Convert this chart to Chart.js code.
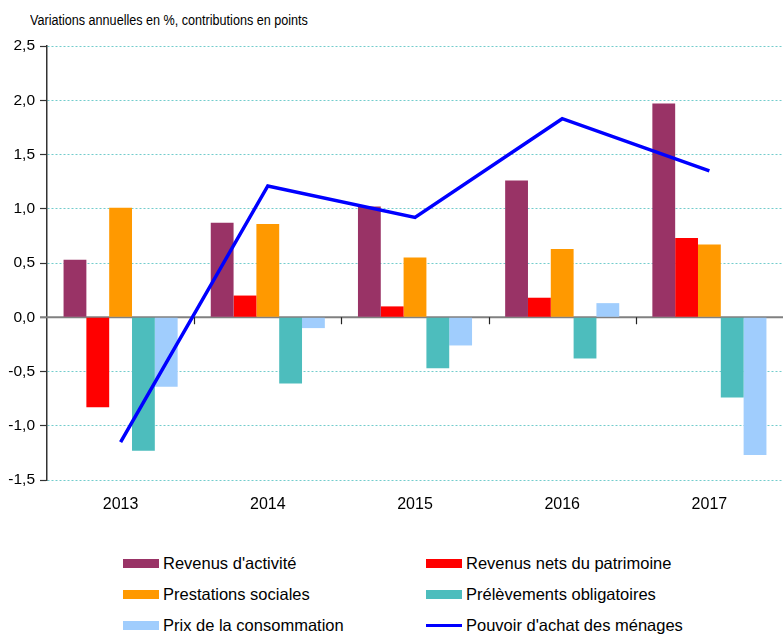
<!DOCTYPE html>
<html>
<head>
<meta charset="utf-8">
<script src="https://cdn.jsdelivr.net/npm/chart.js@4/dist/chart.umd.min.js"></script>
<style>
  html, body { margin: 0; padding: 0; background: #fff; overflow: hidden; }
  #wrap { position: relative; width: 783px; height: 634px; }
  #titre {
    position: absolute; left: 30px; top: 13px;
    font: 14px "Liberation Sans", Arial, sans-serif;
    line-height: 1; color: #000; white-space: nowrap;
    transform: scaleX(0.9); transform-origin: left top;
  }
  #chart { position: absolute; left: 0; top: 0; }
  .leg { position: absolute; height: 20px; font: 16.5px "Liberation Sans", Arial, sans-serif; color: #000; white-space: nowrap; }
  .leg span.sw { position: absolute; left: 0; }
  .leg span.tx { position: absolute; left: 40px; top: 0; line-height: 20px; }
</style>
</head>
<body>
<div id="wrap">
  <div id="titre">Variations annuelles en %, contributions en points</div>
  <canvas id="chart" width="783" height="530"></canvas>
  <div id="legende"></div>
</div>
<script>
// données
const annees = ['2013', '2014', '2015', '2016', '2017'];
const revenusActivite = [0.53, 0.87, 1.02, 1.26, 1.97];
const revenusPatrimoine = [-0.83, 0.20, 0.10, 0.18, 0.73];
const prestationsSociales = [1.01, 0.86, 0.55, 0.63, 0.67];
const prelevements = [-1.23, -0.61, -0.47, -0.38, -0.74];
const prixConso = [-0.64, -0.10, -0.26, 0.13, -1.27];
const pouvoirAchat = [-1.15, 1.21, 0.92, 1.83, 1.35];

const yTicks = [-1.5, -1.0, -0.5, 0.0, 0.5, 1.0, 1.5, 2.0, 2.5];

const couleurs = {
  activite: '#993366',
  patrimoine: '#ff0000',
  prestations: '#ff9900',
  prelevements: '#4dbdbd',
  prix: '#a0cdfd',
  pouvoir: '#0000ff',
};

const series = [
  { label: "Revenus d'activité", data: revenusActivite, color: couleurs.activite },
  { label: 'Revenus nets du patrimoine', data: revenusPatrimoine, color: couleurs.patrimoine },
  { label: 'Prestations sociales', data: prestationsSociales, color: couleurs.prestations },
  { label: 'Prélèvements obligatoires', data: prelevements, color: couleurs.prelevements },
  { label: 'Prix de la consommation', data: prixConso, color: couleurs.prix },
];

const datasets = series.map((s) => ({
  type: 'bar',
  label: s.label,
  data: s.data,
  backgroundColor: s.color,
  borderWidth: 0,
  categoryPercentage: 0.775,
  barPercentage: 1.0,
  order: 2,
}));

datasets.push({
  type: 'line',
  label: "Pouvoir d'achat des ménages",
  data: pouvoirAchat,
  borderColor: couleurs.pouvoir,
  borderWidth: 3.5,
  pointRadius: 0,
  tension: 0,
  fill: false,
  order: 0,
});

// ligne du zéro + petites graduations entre les années
const axeZero = {
  id: 'axeZero',
  beforeDatasetsDraw(chart) {
    const { ctx, chartArea, scales } = chart;
    const y0 = scales.y.getPixelForValue(0);
    ctx.save();
    ctx.strokeStyle = '#808080';
    ctx.lineWidth = 2;
    ctx.beginPath();
    ctx.moveTo(chartArea.left - 7, y0);
    ctx.lineTo(chartArea.right, y0);
    ctx.stroke();
    ctx.strokeStyle = '#222';
    ctx.lineWidth = 1.2;
    for (let i = 1; i < annees.length; i++) {
      const x = (scales.x.getPixelForValue(i - 1) + scales.x.getPixelForValue(i)) / 2;
      ctx.beginPath();
      ctx.moveTo(Math.round(x) + 0.5, y0);
      ctx.lineTo(Math.round(x) + 0.5, y0 + 7);
      ctx.stroke();
    }
    ctx.restore();
  },
};

new Chart(document.getElementById('chart').getContext('2d'), {
  data: { labels: annees, datasets: datasets },
  options: {
    responsive: false,
    animation: false,
    layout: { padding: { top: 46, left: 0, right: 0, bottom: 0 } },
    plugins: {
      legend: { display: false },
      tooltip: { enabled: false },
    },
    scales: {
      x: {
        grid: { display: false, drawTicks: false },
        border: { display: false },
        ticks: {
          color: '#000',
          padding: 15,
          font: { family: '"Liberation Sans", Arial', size: 16 },
        },
        afterFit: (scale) => { scale.height = 50; },
      },
      y: {
        min: -1.5,
        max: 2.5,
        afterBuildTicks: (scale) => { scale.ticks = yTicks.map((v) => ({ value: v })); },
        grid: {
          color: (c) => (c.tick && c.tick.value === 0 ? 'rgba(0,0,0,0)' : '#72cccc'),
          lineWidth: 1,
          drawTicks: true,
          tickLength: 7,
          tickColor: '#333',
          tickBorderDash: [],
          tickWidth: 1.2,
        },
        border: { display: true, color: '#333', width: 1.5, dash: [2, 2] },
        ticks: {
          color: '#000',
          padding: 5,
          font: { family: '"Liberation Sans", Arial', size: 15.5 },
          callback: (v) => v.toFixed(1).replace('.', ','),
        },
        afterFit: (scale) => { scale.width = 47; },
      },
    },
  },
  plugins: [axeZero],
});

// légende en deux colonnes
const legende = document.getElementById('legende');
const items = series.map((s) => ({ label: s.label, color: s.color, line: false }));
items.push({ label: "Pouvoir d'achat des ménages", color: couleurs.pouvoir, line: true });
const colX = [123, 426];
const rowY = [563, 594, 625];
items.forEach((it, i) => {
  const d = document.createElement('div');
  d.className = 'leg';
  d.style.left = colX[i % 2] + 'px';
  d.style.top = (rowY[Math.floor(i / 2)] - 10) + 'px';
  const sw = document.createElement('span');
  sw.className = 'sw';
  sw.style.width = '36px';
  sw.style.background = it.color;
  if (it.line) { sw.style.height = '3px'; sw.style.top = '8.5px'; }
  else { sw.style.height = '9px'; sw.style.top = '5.5px'; }
  const tx = document.createElement('span');
  tx.className = 'tx';
  tx.textContent = it.label;
  d.appendChild(sw);
  d.appendChild(tx);
  legende.appendChild(d);
});
</script>
</body>
</html>
